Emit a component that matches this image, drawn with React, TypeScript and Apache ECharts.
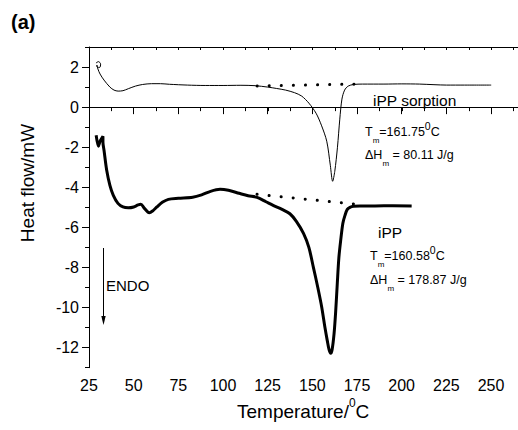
import React, { useEffect, useRef } from "react";
import * as echarts from "echarts";

// ---- axis ranges / tick labels ----
const xTickLabels = [25, 50, 75, 100, 125, 150, 175, 200, 225, 250];
const yTickLabels = [-12, -10, -8, -6, -4, -2, 0, 2];
const xRange = [25, 265];
const yRange = [-13, 3];

// ---- iPP sorption (thin curve) ----
const sorptionT = [28.9, 30.3, 31.5, 31.0, 29.6, 29.4, 30.0, 31.2, 33.4, 36.7, 39, 41.3, 44, 47, 51, 55, 60, 65, 70, 80, 90, 100, 110, 118, 125, 130, 135, 140, 144, 148, 152, 155, 158, 160, 161.3, 162.5, 164, 165.3, 166.5, 168, 170, 173, 178, 190, 200, 210, 218, 225, 235, 250];
const sorptionHF = [2.2, 2.27, 2.15, 1.98, 2.0, 2.1, 1.9, 1.65, 1.35, 1.0, 0.85, 0.8, 0.82, 0.92, 1.05, 1.13, 1.17, 1.17, 1.14, 1.1, 1.08, 1.08, 1.09, 1.07, 1.0, 0.93, 0.85, 0.72, 0.55, 0.2, -0.3, -0.9, -1.7, -2.9, -3.7, -3.2, -2.0, -0.6, 0.4, 0.85, 1.05, 1.13, 1.15, 1.15, 1.16, 1.15, 1.12, 1.1, 1.1, 1.1];

// ---- iPP (thick curve) ----
const ippT = [29, 30.3, 31.2, 32.8, 32.8, 33.4, 34.9, 36.7, 38.6, 41.2, 44, 47, 50, 52.5, 54, 56, 58.7, 61, 63, 66, 69.4, 75, 83, 88, 93, 98.3, 103, 109, 114, 119, 124, 128, 133, 137.4, 141, 145, 148, 150.5, 153, 155.2, 157, 158.3, 159.3, 160.2, 161, 162.1, 163, 163.9, 164.8, 165.8, 167, 168.2, 169.5, 171, 173, 176.6, 185, 195, 205.5];
const ippHF = [-1.4, -1.95, -1.7, -1.45, -1.75, -2.15, -3.15, -3.9, -4.4, -4.8, -4.98, -5.02, -4.98, -4.88, -4.85, -5.05, -5.27, -5.15, -4.98, -4.75, -4.6, -4.55, -4.5, -4.38, -4.2, -4.1, -4.15, -4.3, -4.42, -4.5, -4.72, -4.9, -5.1, -5.32, -5.7, -6.3, -7.0, -7.98, -9.0, -9.98, -11.0, -11.65, -12.1, -12.28, -12.1, -11.3, -10.2, -8.8, -7.5, -6.65, -5.8, -5.4, -5.1, -5.0, -4.95, -4.93, -4.93, -4.92, -4.93];

// ---- dotted baselines ----
const sorptionBaseT = [119, 174.5];
const sorptionBaseHF = [1.05, 1.15];
const ippBaseT = [119, 175];
const ippBaseHF = [-4.35, -4.85];

const FONT = "Liberation Sans, Arial, sans-serif";

function zip(a: number[], b: number[]) {
  return a.map((v, i) => [v, b[i]]);
}

export default function App() {
  const ref = useRef<HTMLDivElement>(null);
  useEffect(() => {
    if (!ref.current) return;
    const chart = echarts.init(ref.current, undefined, { renderer: "svg" });
    const black = "#000";
    const annRich = {
      n: { fontSize: 12.5, lineHeight: 24, fontFamily: FONT, color: black },
      s: { fontSize: 8, lineHeight: 14, verticalAlign: "bottom", fontFamily: FONT, color: black },
      p: { fontSize: 10.5, lineHeight: 10, verticalAlign: "top", fontFamily: FONT, color: black },
    };
    const option: any = {
      animation: false,
      backgroundColor: "#fff",
      grid: [
        { left: 89, top: 47, right: 0, height: 320.7 },
        { left: 89, top: 67.7, right: 0, height: 280 },
        { left: 89, top: 47, width: 402, height: 320.7 },
      ],
      xAxis: [
        {
          gridIndex: 0, type: "value", position: "bottom",
          min: xRange[0], max: xRange[1], interval: 12.5,
          axisLine: { show: true, lineStyle: { color: black, width: 1 } },
          axisTick: { show: true, length: 4, lineStyle: { color: black } },
          axisLabel: { show: false }, splitLine: { show: false },
        },
        {
          gridIndex: 0, type: "value", position: "top",
          min: xRange[0], max: xRange[1], interval: 12.5,
          axisLine: { show: true, lineStyle: { color: black, width: 1 } },
          axisTick: { show: true, inside: true, length: 3, lineStyle: { color: black } },
          axisLabel: { show: false }, splitLine: { show: false },
        },
        {
          gridIndex: 1, type: "value", show: false, min: xRange[0], max: xRange[1],
        },
        {
          gridIndex: 2, type: "value", position: "bottom",
          min: xTickLabels[0], max: xTickLabels[xTickLabels.length - 1], interval: 25,
          axisLine: { show: true, lineStyle: { color: black, width: 1 } },
          axisTick: { show: true, length: 7, lineStyle: { color: black } },
          axisLabel: { show: true, fontSize: 16, color: black, fontFamily: FONT, margin: 10 },
          splitLine: { show: false },
        },
      ],
      yAxis: [
        {
          gridIndex: 0, type: "value", position: "left",
          min: yRange[0], max: yRange[1], interval: 1,
          axisLine: { show: true, lineStyle: { color: black, width: 1 } },
          axisTick: { show: true, length: 4, lineStyle: { color: black } },
          axisLabel: { show: false }, splitLine: { show: false },
        },
        {
          gridIndex: 1, type: "value", position: "left",
          min: yTickLabels[0], max: yTickLabels[yTickLabels.length - 1], interval: 2,
          axisLine: { show: true, lineStyle: { color: black, width: 1 } },
          axisTick: { show: true, length: 7, lineStyle: { color: black } },
          axisLabel: { show: true, fontSize: 16, color: black, fontFamily: FONT, margin: 10 },
          splitLine: { show: false },
        },
        {
          gridIndex: 2, type: "value", show: false, min: yRange[0], max: yRange[1],
        },
      ],
      series: [
        {
          type: "line", xAxisIndex: 0, yAxisIndex: 0, data: zip(sorptionT, sorptionHF),
          symbol: "none", smooth: 0.3, lineStyle: { color: black, width: 1 },
        },
        {
          type: "line", xAxisIndex: 0, yAxisIndex: 0, data: zip(ippT, ippHF),
          symbol: "none", smooth: 0.3, lineStyle: { color: black, width: 3 },
        },
        {
          type: "line", xAxisIndex: 0, yAxisIndex: 0, data: zip(sorptionBaseT, sorptionBaseHF),
          symbol: "none", lineStyle: { color: black, width: 3, type: [0.1, 12], cap: "round" },
        },
        {
          type: "line", xAxisIndex: 0, yAxisIndex: 0, data: zip(ippBaseT, ippBaseHF),
          symbol: "none", lineStyle: { color: black, width: 3, type: [0.1, 12], cap: "round" },
        },
      ],
      graphic: [
        {
          type: "text", left: 11, top: 12,
          style: { text: "(a)", fontSize: 20, fontWeight: "bold", fontFamily: FONT, fill: black },
        },
        {
          type: "text", x: 27, y: 183, rotation: Math.PI / 2,
          style: { text: "Heat flow/mW", fontSize: 19, fontFamily: FONT, fill: black, align: "center", verticalAlign: "middle" },
        },
        {
          type: "text", x: 237, y: 411,
          style: {
            text: "{n|Temperature/}{p|0}{n|C}", align: "left", verticalAlign: "middle",
            rich: {
              n: { fontSize: 19, lineHeight: 28, fontFamily: FONT, color: black },
              p: { fontSize: 12, lineHeight: 12, verticalAlign: "top", fontFamily: FONT, color: black },
            },
          },
        },
        {
          type: "text", x: 373, y: 100,
          style: { text: "iPP sorption", fontSize: 15.5, fontFamily: FONT, fill: black, align: "left", verticalAlign: "middle" },
        },
        {
          type: "text", x: 365, y: 132,
          style: { text: "{n|T}{s|m}{n|=161.75}{p|0}{n|C}", align: "left", verticalAlign: "middle", rich: annRich },
        },
        {
          type: "text", x: 365, y: 155,
          style: { text: "{n|ΔH}{s|m}{n| = 80.11 J/g}", align: "left", verticalAlign: "middle", rich: annRich },
        },
        {
          type: "text", x: 378, y: 232,
          style: { text: "iPP", fontSize: 15.5, fontFamily: FONT, fill: black, align: "left", verticalAlign: "middle" },
        },
        {
          type: "text", x: 370, y: 256,
          style: { text: "{n|T}{s|m}{n|=160.58}{p|0}{n|C}", align: "left", verticalAlign: "middle", rich: annRich },
        },
        {
          type: "text", x: 370, y: 280,
          style: { text: "{n|ΔH}{s|m}{n| = 178.87 J/g}", align: "left", verticalAlign: "middle", rich: annRich },
        },
        {
          type: "text", x: 106, y: 285,
          style: { text: "ENDO", fontSize: 15, fontFamily: FONT, fill: black, align: "left", verticalAlign: "middle" },
        },
        {
          type: "line",
          shape: { x1: 103.5, y1: 248, x2: 103.5, y2: 318 },
          style: { stroke: black, lineWidth: 1 },
        },
        {
          type: "polygon",
          shape: { points: [[101.3, 316], [105.7, 316], [103.5, 325]] },
          style: { fill: black },
        },
      ],
    };
    chart.setOption(option);
    return () => chart.dispose();
  }, []);
  return (
    <div
      ref={ref}
      style={{ position: "fixed", left: 0, top: 0, width: 518, height: 430, background: "#fff" }}
    />
  );
}
